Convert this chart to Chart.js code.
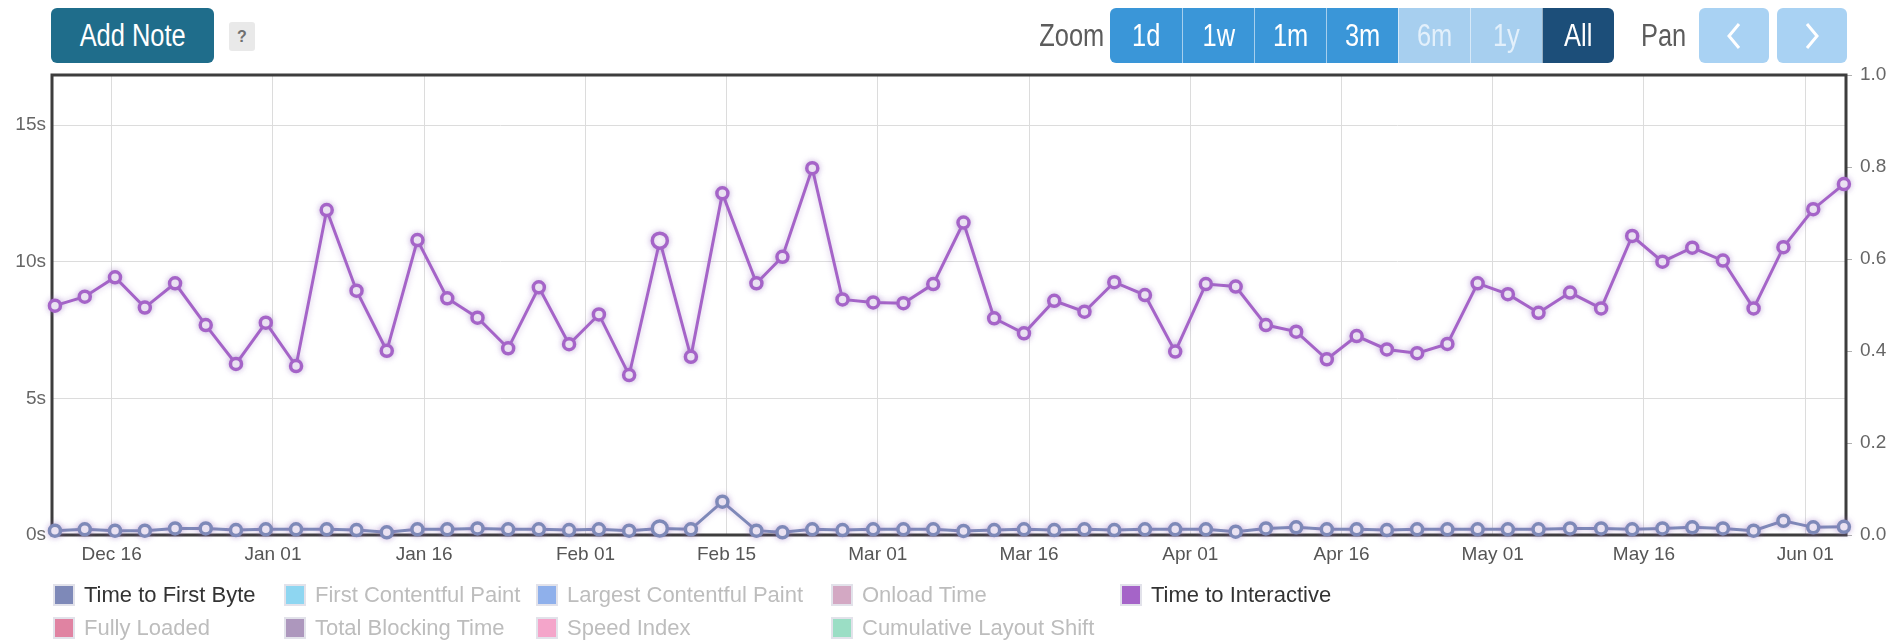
<!DOCTYPE html>
<html>
<head>
<meta charset="utf-8">
<title>Performance history</title>
<script src="https://cdn.jsdelivr.net/npm/chart.js@4.4.1/dist/chart.umd.min.js"></script>
<style>
  html, body { margin: 0; padding: 0; background: #fff; width: 1889px; height: 642px; overflow: hidden;
    font-family: "Liberation Sans", Arial, sans-serif; }
  #chart { position: absolute; left: 0; top: 0; }
  .narrow { display: inline-block; transform: scaleX(0.82); transform-origin: center; white-space: nowrap; }
  .tool { position: absolute; top: 8px; height: 55px; box-sizing: border-box; display: flex;
    align-items: center; justify-content: center; color: #fff; font-size: 31px; }
  #addNote { left: 51px; width: 163px; background: #1f6d8b; border-radius: 6px; }
  #help { position: absolute; left: 229px; top: 22px; width: 26px; height: 29px; background: #e9e9e9;
    border-radius: 3px; color: #707070; font-size: 16px; font-weight: bold; display: flex;
    align-items: center; justify-content: center; }
  .caption { position: absolute; top: 8px; height: 55px; display: flex; align-items: center;
    color: #5c5c5c; font-size: 31px; }
  #zoomCaption { right: calc(1889px - 1104px); }
  #zoomCaption .narrow, #panCaption .narrow { transform-origin: right center; }
  #panCaption { right: calc(1889px - 1686px); }
  #zoomGroup { position: absolute; left: 1110px; top: 8px; height: 55px; display: flex;
    border-radius: 6px; overflow: hidden; }
  #zoomGroup div { width: 72px; height: 55px; display: flex; align-items: center; justify-content: center;
    color: #fff; font-size: 31px; box-sizing: border-box; border-left: 1px solid rgba(255,255,255,0.55); }
  #zoomGroup div:first-child { border-left: none; }
  #zoomGroup .on { background: #3a96d8; }
  #zoomGroup .off { background: #a7cfef; color: #e3f0fb; }
  #zoomGroup .cur { background: #1c4e79; }
  .pan { position: absolute; top: 8px; width: 70px; height: 55px; background: #a9d2f3; border-radius: 6px;
    display: flex; align-items: center; justify-content: center; }
  #panLeft { left: 1699px; }
  #panRight { left: 1777px; }
  #legend { position: absolute; left: 53px; top: 578px; display: grid;
    grid-template-columns: 231px 252px 295px 289px auto; grid-auto-rows: 33px; }
  #legend .item { display: flex; align-items: center; font-size: 22px; color: #333; white-space: nowrap; }
  #legend .item.hidden { color: #bdbdbd; }
  #legend .swatch { width: 18px; height: 18px; border: 2px solid #e2e2ea; margin-right: 9px; flex: none; }
</style>
</head>
<body>
<canvas id="chart" width="1889" height="642"></canvas>

<div id="addNote" class="tool"><span class="narrow">Add Note</span></div>
<div id="help">?</div>

<div id="zoomCaption" class="caption"><span class="narrow">Zoom</span></div>
<div id="zoomGroup">
  <div class="on"><span class="narrow">1d</span></div>
  <div class="on"><span class="narrow">1w</span></div>
  <div class="on"><span class="narrow">1m</span></div>
  <div class="on"><span class="narrow">3m</span></div>
  <div class="off"><span class="narrow">6m</span></div>
  <div class="off"><span class="narrow">1y</span></div>
  <div class="cur"><span class="narrow">All</span></div>
</div>
<div id="panCaption" class="caption"><span class="narrow">Pan</span></div>
<div id="panLeft" class="pan"><svg width="16" height="28" viewBox="0 0 16 28"><polyline points="13,2 3,14 13,26" fill="none" stroke="#fff" stroke-width="3"/></svg></div>
<div id="panRight" class="pan"><svg width="16" height="28" viewBox="0 0 16 28"><polyline points="3,2 13,14 3,26" fill="none" stroke="#fff" stroke-width="3"/></svg></div>

<div id="legend"></div>

<script>
// Test runs (UTC) and measured metrics, in seconds
const runTimes = [
  '2019-12-10T09:00', '2019-12-13T08:00', '2019-12-16T08:00', '2019-12-19T07:00', '2019-12-22T07:00',
  '2019-12-25T08:00', '2019-12-28T08:00', '2019-12-31T07:00', '2020-01-03T07:00', '2020-01-06T08:00',
  '2020-01-09T07:00', '2020-01-12T07:00', '2020-01-15T08:00', '2020-01-18T07:00', '2020-01-21T07:00',
  '2020-01-24T08:00', '2020-01-27T09:00', '2020-01-30T09:00', '2020-02-02T08:00', '2020-02-05T08:00',
  '2020-02-08T09:00', '2020-02-11T11:00', '2020-02-14T14:00', '2020-02-17T23:00', '2020-02-20T13:00',
  '2020-02-23T12:00', '2020-02-26T12:00', '2020-02-29T13:00', '2020-03-03T13:00', '2020-03-06T12:00',
  '2020-03-09T12:00', '2020-03-12T13:00', '2020-03-15T12:00', '2020-03-18T12:00', '2020-03-21T12:00',
  '2020-03-24T11:00', '2020-03-27T12:00', '2020-03-30T12:00', '2020-04-02T13:00', '2020-04-05T12:00',
  '2020-04-08T12:00', '2020-04-11T12:00', '2020-04-14T13:00', '2020-04-17T12:00', '2020-04-20T12:00',
  '2020-04-23T12:00', '2020-04-26T12:00', '2020-04-29T12:00', '2020-05-02T12:00', '2020-05-05T13:00',
  '2020-05-08T16:00', '2020-05-11T18:00', '2020-05-14T20:00', '2020-05-17T20:00', '2020-05-20T19:00',
  '2020-05-23T20:00', '2020-05-26T21:00', '2020-05-29T20:00', '2020-06-01T19:00', '2020-06-04T20:00'
];

const timeToInteractive = [
  8.39, 8.72, 9.43, 8.32, 9.21, 7.68, 6.26, 7.77, 6.18, 11.89,
  8.94, 6.74, 10.79, 8.66, 7.95, 6.83, 9.06, 6.98, 8.07, 5.85,
  10.77, 6.52, 12.50, 9.21, 10.18, 13.42, 8.62, 8.51, 8.48, 9.18,
  11.43, 7.93, 7.38, 8.57, 8.17, 9.25, 8.78, 6.71, 9.18, 9.09,
  7.68, 7.44, 6.43, 7.28, 6.79, 6.65, 6.99, 9.21, 8.81, 8.13,
  8.87, 8.29, 10.94, 10.00, 10.51, 10.04, 8.29, 10.53, 11.92, 12.84
];

const timeToFirstByte = [
  0.16, 0.21, 0.16, 0.16, 0.24, 0.24, 0.18, 0.21, 0.21, 0.21,
  0.18, 0.10, 0.21, 0.21, 0.24, 0.21, 0.21, 0.18, 0.21, 0.16,
  0.24, 0.21, 1.22, 0.16, 0.10, 0.21, 0.18, 0.21, 0.21, 0.21,
  0.15, 0.18, 0.21, 0.18, 0.21, 0.18, 0.21, 0.21, 0.21, 0.12,
  0.24, 0.28, 0.21, 0.21, 0.18, 0.21, 0.21, 0.21, 0.21, 0.21,
  0.24, 0.24, 0.21, 0.24, 0.28, 0.24, 0.16, 0.52, 0.28, 0.30
];

// Date axis
const rangeStart = '2019-12-10T02:00';
const rangeEnd = '2020-06-05T01:00';
const dateTickDays = ['2019-12-16', '2020-01-01', '2020-01-16', '2020-02-01', '2020-02-15', '2020-03-01',
  '2020-03-16', '2020-04-01', '2020-04-16', '2020-05-01', '2020-05-16', '2020-06-01'];
const dateTickLabels = ['Dec 16', 'Jan 01', 'Jan 16', 'Feb 01', 'Feb 15', 'Mar 01',
  'Mar 16', 'Apr 01', 'Apr 16', 'May 01', 'May 16', 'Jun 01'];

// Value axes
const secondsTicks = [0, 5, 10, 15];
const secondsAxisMax = 16.83;
const shiftTicks = [0, 0.2, 0.4, 0.6, 0.8, 1.0];

// Metric names and colours (only TTFB and TTI are switched on)
const metricNames = ['Time to First Byte', 'First Contentful Paint', 'Largest Contentful Paint', 'Onload Time',
  'Time to Interactive', 'Fully Loaded', 'Total Blocking Time', 'Speed Index', 'Cumulative Layout Shift'];
const metricColors = ['#7e89b8', '#8ed6f1', '#8fb0eb', '#d3a8c3', '#a564c8', '#e083a2', '#ad97bd', '#f4a5ca', '#9bdec5'];

// Run under the pointer
const focusedRun = 20;

const utc = s => new Date((s.length === 10 ? s + 'T00:00' : s) + 'Z').getTime();
const runX = runTimes.map(utc);
const seriesData = {
  'Time to First Byte': timeToFirstByte.map((v, i) => ({ x: runX[i], y: v })),
  'Time to Interactive': timeToInteractive.map((v, i) => ({ x: runX[i], y: v }))
};

const datasets = metricNames.map((name, i) => {
  const data = seriesData[name] || [];
  return {
    label: name,
    data,
    hidden: data.length === 0,
    yAxisID: name === 'Cumulative Layout Shift' ? 'y1' : 'y',
    borderColor: metricColors[i],
    backgroundColor: metricColors[i],
    borderWidth: 3,
    pointBackgroundColor: '#fff',
    pointBorderColor: metricColors[i],
    pointBorderWidth: 3.5,
    pointRadius: ctx => ctx.dataIndex === focusedRun ? 7.5 : 5.5,
    tension: 0,
    clip: false
  };
});

// Dark frame round the plotting area
const plotFrame = {
  id: 'plotFrame',
  beforeDatasetsDraw(chart) {
    const { ctx, chartArea: a } = chart;
    ctx.save();
    ctx.strokeStyle = '#3d3d3d';
    ctx.lineWidth = 3;
    ctx.strokeRect(a.left, a.top, a.right - a.left, a.bottom - a.top);
    ctx.restore();
  }
};

// Soft glow under the series lines
const lineGlow = {
  id: 'lineGlow',
  beforeDatasetDraw(chart) {
    const ctx = chart.ctx;
    ctx.save();
    ctx.shadowColor = 'rgba(150,110,190,0.45)';
    ctx.shadowBlur = 6;
  },
  afterDatasetDraw(chart) {
    chart.ctx.restore();
  }
};

// Legend laid out in aligned columns below the chart, in series order
const columnLegend = {
  id: 'columnLegend',
  afterUpdate(chart) {
    const host = document.getElementById('legend');
    host.innerHTML = '';
    const items = Chart.defaults.plugins.legend.labels.generateLabels(chart)
      .sort((a, b) => a.datasetIndex - b.datasetIndex);
    items.forEach(item => {
      const el = document.createElement('div');
      el.className = 'item' + (item.hidden ? ' hidden' : '');
      const sw = document.createElement('span');
      sw.className = 'swatch';
      sw.style.background = item.strokeStyle;
      const tx = document.createElement('span');
      tx.textContent = item.text;
      el.appendChild(sw);
      el.appendChild(tx);
      host.appendChild(el);
    });
  }
};

const axisFont = { family: '"Liberation Sans", Arial, sans-serif', size: 19 };

new Chart(document.getElementById('chart'), {
  type: 'line',
  data: { datasets },
  plugins: [plotFrame, lineGlow, columnLegend],
  options: {
    responsive: false,
    devicePixelRatio: 1,
    animation: false,
    events: [],
    layout: { padding: { top: 75, bottom: 72, left: 0, right: 0 } },
    plugins: { legend: { display: false }, tooltip: { enabled: false } },
    scales: {
      x: {
        type: 'linear',
        min: utc(rangeStart),
        max: utc(rangeEnd),
        afterBuildTicks: s => { s.ticks = dateTickDays.map(d => ({ value: utc(d) })); },
        afterFit: s => { s.height = 35; },
        ticks: {
          autoSkip: false, maxRotation: 0, padding: 8, color: '#555', font: axisFont,
          callback: (v, i) => dateTickLabels[i]
        },
        grid: { color: '#dcdcdc', lineWidth: 1, drawTicks: false },
        border: { display: false }
      },
      y: {
        position: 'left',
        min: 0,
        max: secondsAxisMax,
        afterBuildTicks: s => { s.ticks = secondsTicks.map(v => ({ value: v })); },
        afterFit: s => { s.width = 52; },
        ticks: { padding: 6, color: '#666', font: axisFont, callback: v => v + 's' },
        grid: { color: '#dcdcdc', lineWidth: 1, drawTicks: false },
        border: { display: false }
      },
      y1: {
        position: 'right',
        display: true,
        min: 0,
        max: 1,
        afterBuildTicks: s => { s.ticks = shiftTicks.map(v => ({ value: v })); },
        afterFit: s => { s.width = 43; },
        ticks: { padding: 8, color: '#666', font: axisFont, callback: v => v.toFixed(1) },
        grid: { drawOnChartArea: false, drawTicks: true, tickLength: 6, color: '#b0b0b0' },
        border: { display: false }
      }
    }
  }
});
</script>
</body>
</html>
